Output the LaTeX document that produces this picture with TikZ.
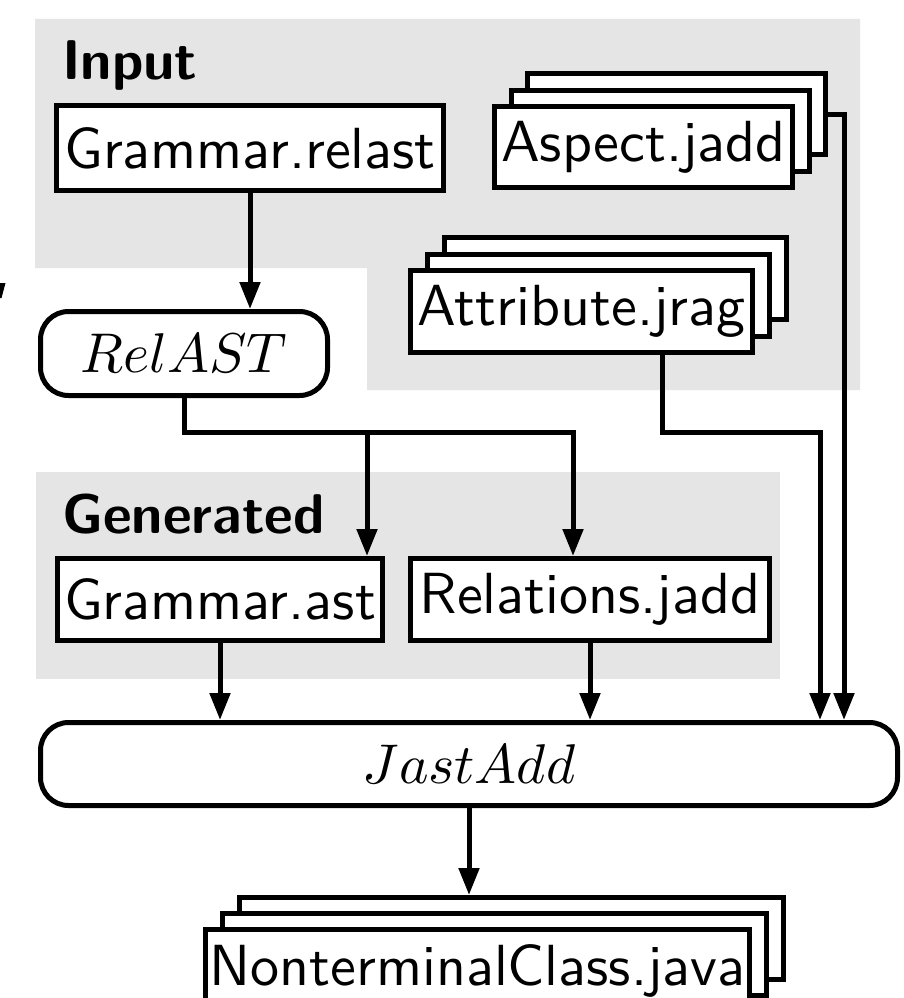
\documentclass[tikz,border=0pt]{standalone}
\usepackage{fontspec}
\usepackage{graphicx}
\setsansfont{lmsans10-regular.otf}[BoldFont=lmsans10-bold.otf]
\usetikzlibrary{arrows.meta}
\newcommand\bigmath[1]{\scalebox{5.6}{\fontsize{10}{12}\selectfont$#1$}}
\begin{document}
\begin{tikzpicture}[x=1pt,y=-1pt,
  every node/.style={font=\fontsize{58}{66}\selectfont\sffamily},
  lw/.style={line width=5pt},
  filebox/.style={draw, lw, fill=white, rectangle, inner sep=0pt, minimum height=82pt},
  procbox/.style={draw, lw, fill=white, rectangle, rounded corners=28pt, inner sep=0pt},
  grouplabel/.style={anchor=base west, inner sep=0pt, font=\fontsize{56}{64}\selectfont\sffamily\bfseries},
  arr/.style={lw, -{Triangle[length=27pt,width=20pt]}}]
\useasboundingbox (0,0) rectangle (903,998);
\clip (0,0) rectangle (903,998);
\fill[white] (0,0) rectangle (903,998);
% groups
\fill[gray!20] (35,19) -- (860,19) -- (860,390) -- (367,390) -- (367,268) -- (35,268) -- cycle;
\fill[gray!20] (36,472) rectangle (780,679);
\node[grouplabel] (inlabel) at (62,80) {Input};
\node[grouplabel] (genlabel) at (62,533) {Generated};
% clipped mark at left edge
\fill (0,283) -- (5.5,283) -- (1.5,298) -- (0,298) -- cycle;
% nodes
\node[filebox, minimum width=387pt, minimum height=85pt] (gram) at (250,148) {Grammar.relast};
\node[procbox, minimum width=287pt, minimum height=84pt] (relast) at (184,353.5) {\bigmath{RelAST}};
\node[filebox, minimum width=298pt, minimum height=81pt] (aspect3) at (676.5,114) {\phantom{Aspect.jadd}};
\node[filebox, minimum width=298pt, minimum height=81pt] (aspect2) at (660,130.5) {\phantom{Aspect.jadd}};
\node[filebox, minimum width=298pt, minimum height=81pt] (aspect) at (643.5,147) {Aspect.jadd};
\node[filebox, minimum width=342pt] (attr3) at (615.5,278.5) {\phantom{Attribute.jrag}};
\node[filebox, minimum width=342pt] (attr2) at (598.5,295) {\phantom{Attribute.jrag}};
\node[filebox, minimum width=342pt] (attr) at (581.5,311.5) {Attribute.jrag};
\node[filebox, minimum width=325pt] (gast) at (220,599.5) {Grammar.ast};
\node[filebox, minimum width=359pt] (rel) at (590,599.5) {Relations.jadd};
\node[procbox, minimum width=857pt, minimum height=83pt] (jast) at (469,764) {\bigmath{JastAdd}};
\node[filebox, minimum width=544pt] (ntc3) at (511,938.5) {\phantom{NonterminalClass.java}};
\node[filebox, minimum width=544pt] (ntc2) at (494,954.5) {\phantom{NonterminalClass.java}};
\node[filebox, minimum width=544pt] (ntc) at (477.5,970.5) {NonterminalClass.java};
% junction coordinates
\coordinate (j1) at (367,432);
\coordinate (j2) at (573,432);
\coordinate (k1) at (662,432);
\coordinate (k2) at (820,432);
\coordinate (k3) at (844,0);
% connectors
\draw[arr] (gram.south) -- (gram.south |- relast.north);
\draw[arr] (relast.south) |- (j2) -- (j2 |- rel.north);
\draw[arr] (j1) -- (j1 |- gast.north);
\draw[arr] (k1 |- attr.south) -- (k1) -- (k2) -- (k2 |- jast.north);
\draw[arr] (aspect3.east) -| (k3 |- jast.north);
\draw[arr] (gast.south) -- (gast.south |- jast.north);
\draw[arr] (rel.south) -- (rel.south |- jast.north);
\draw[arr] (jast.south) -- (jast.south |- ntc3.north);
\end{tikzpicture}
\end{document}
